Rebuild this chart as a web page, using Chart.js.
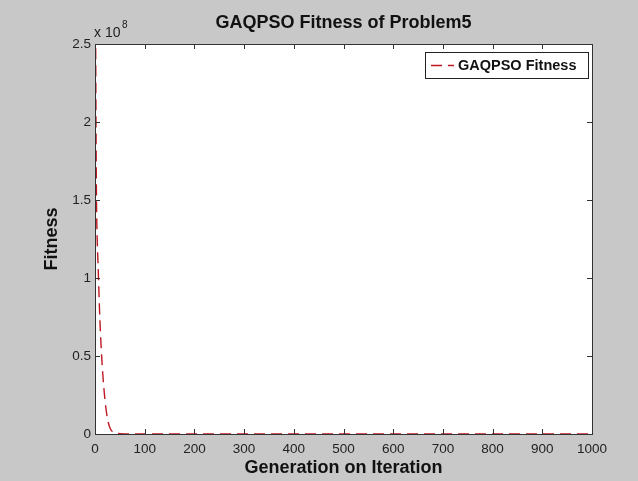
<!DOCTYPE html>
<html>
<head>
<meta charset="utf-8">
<script src="https://cdn.jsdelivr.net/npm/chart.js@4"></script>
<style>
  html, body { margin: 0; padding: 0; background: #c8c8c8; }
  #wrap { width: 638px; height: 481px; }
</style>
</head>
<body>
<div id="wrap"><canvas id="chart" width="638" height="481"></canvas></div>
<script>
const titleText = 'GAQPSO Fitness of Problem5';
const xTitle = 'Generation on Iteration';
const yTitle = 'Fitness';
const seriesName = 'GAQPSO Fitness';

// iteration numbers and fitness values
const iterations = [1, 2, 3, 4, 6, 8, 10, 13, 16, 20, 25, 30, 36, 45, 60, 100, 1000];
const fitness = [2.8e8, 2.0e8, 1.5e8, 1.3e8, 1.1e8, 0.9e8, 0.72e8, 0.52e8, 0.37e8, 0.22e8, 0.1e8, 0.04e8, 0.012e8, 0.004e8, 0.001e8, 0, 0];

const xTicks = [0, 100, 200, 300, 400, 500, 600, 700, 800, 900, 1000];
const yTicks = [0, 0.5e8, 1e8, 1.5e8, 2e8, 2.5e8];

const points = iterations.map((x, i) => ({ x: x, y: fitness[i] }));
const FONT = '"Liberation Sans", Arial, sans-serif';
const lineColor = 'rgb(190,25,35)';

const matlabFrame = {
  id: 'matlabFrame',
  afterDraw(chart) {
    const ctx = chart.ctx;
    const a = chart.chartArea;
    const xs = chart.scales.x, ys = chart.scales.y;
    ctx.save();
    // box
    ctx.strokeStyle = '#333';
    ctx.lineWidth = 1;
    ctx.strokeRect(a.left + 0.5, a.top + 0.5, a.right - a.left, a.bottom - a.top);
    // inward ticks on all four sides
    ctx.beginPath();
    xTicks.forEach(v => {
      const px = Math.round(xs.getPixelForValue(v)) + 0.5;
      ctx.moveTo(px, a.bottom); ctx.lineTo(px, a.bottom - 5);
      ctx.moveTo(px, a.top); ctx.lineTo(px, a.top + 5);
    });
    yTicks.forEach(v => {
      const py = Math.round(ys.getPixelForValue(v)) + 0.5;
      ctx.moveTo(a.left, py); ctx.lineTo(a.left + 5, py);
      ctx.moveTo(a.right, py); ctx.lineTo(a.right - 5, py);
    });
    ctx.stroke();

    // title
    ctx.fillStyle = '#111';
    ctx.font = 'bold 18px ' + FONT;
    ctx.textAlign = 'center';
    ctx.textBaseline = 'middle';
    ctx.fillText(titleText, (a.left + a.right) / 2, 23);
    // x title
    ctx.fillText(xTitle, (a.left + a.right) / 2, 468);
    // y title
    ctx.save();
    ctx.translate(52, (a.top + a.bottom) / 2);
    ctx.rotate(-Math.PI / 2);
    ctx.fillText(yTitle, 0, 0);
    ctx.restore();

    // exponent
    ctx.font = '14px ' + FONT;
    ctx.textAlign = 'left';
    ctx.fillStyle = '#222';
    ctx.fillText('x 10', a.left - 1, 33);
    ctx.font = '10px ' + FONT;
    ctx.fillText('8', a.left + 27, 25);

    // legend
    const lx = 425, ly = 52, lw = 163, lh = 26;
    ctx.fillStyle = '#fff';
    ctx.fillRect(lx, ly, lw, lh);
    ctx.strokeStyle = '#222';
    ctx.strokeRect(lx + 0.5, ly + 0.5, lw, lh);
    ctx.strokeStyle = lineColor;
    ctx.lineWidth = 1.4;
    ctx.setLineDash([11, 6]);
    ctx.beginPath();
    ctx.moveTo(431, ly + lh / 2 + 0.5);
    ctx.lineTo(454, ly + lh / 2 + 0.5);
    ctx.stroke();
    ctx.setLineDash([]);
    ctx.fillStyle = '#111';
    ctx.font = 'bold 14.5px ' + FONT;
    ctx.textBaseline = 'middle';
    ctx.fillText(seriesName, 458, ly + lh / 2 + 1);
    ctx.restore();
  }
};

const plotBg = {
  id: 'plotBg',
  beforeDraw(chart) {
    const ctx = chart.ctx;
    const a = chart.chartArea;
    ctx.save();
    ctx.fillStyle = '#c8c8c8';
    ctx.fillRect(0, 0, chart.width, chart.height);
    ctx.fillStyle = '#fff';
    ctx.fillRect(a.left, a.top, a.right - a.left, a.bottom - a.top);
    ctx.restore();
  }
};

new Chart(document.getElementById('chart'), {
  type: 'line',
  data: {
    datasets: [{
      label: seriesName,
      data: points,
      borderColor: lineColor,
      borderWidth: 1.4,
      borderDash: [11, 6],
      pointRadius: 0,
      cubicInterpolationMode: 'monotone',
      fill: false
    }]
  },
  options: {
    responsive: false,
    animation: false,
    layout: { padding: { left: 0, top: 44, right: 46, bottom: 0 } },
    plugins: { legend: { display: false }, title: { display: false }, tooltip: { enabled: false } },
    scales: {
      x: {
        type: 'linear', min: 0, max: 1000,
        afterFit: s => { s.height = 47; },
        afterBuildTicks: s => { s.ticks = xTicks.map(v => ({ value: v })); },
        grid: { display: false, drawTicks: false },
        border: { display: false },
        ticks: {
          padding: 7, color: '#222', font: { family: FONT, size: 13.5 }, maxRotation: 0,
          callback: v => String(v)
        }
      },
      y: {
        min: 0, max: 2.5e8,
        afterFit: s => { s.width = 95; },
        afterBuildTicks: s => { s.ticks = yTicks.map(v => ({ value: v })); },
        grid: { display: false, drawTicks: false },
        border: { display: false },
        ticks: {
          padding: 4, color: '#222',
          font: { family: FONT, size: 13.5 },
          callback: v => String(v / 1e8)
        }
      }
    }
  },
  plugins: [plotBg, matlabFrame]
});
</script>
</body>
</html>
